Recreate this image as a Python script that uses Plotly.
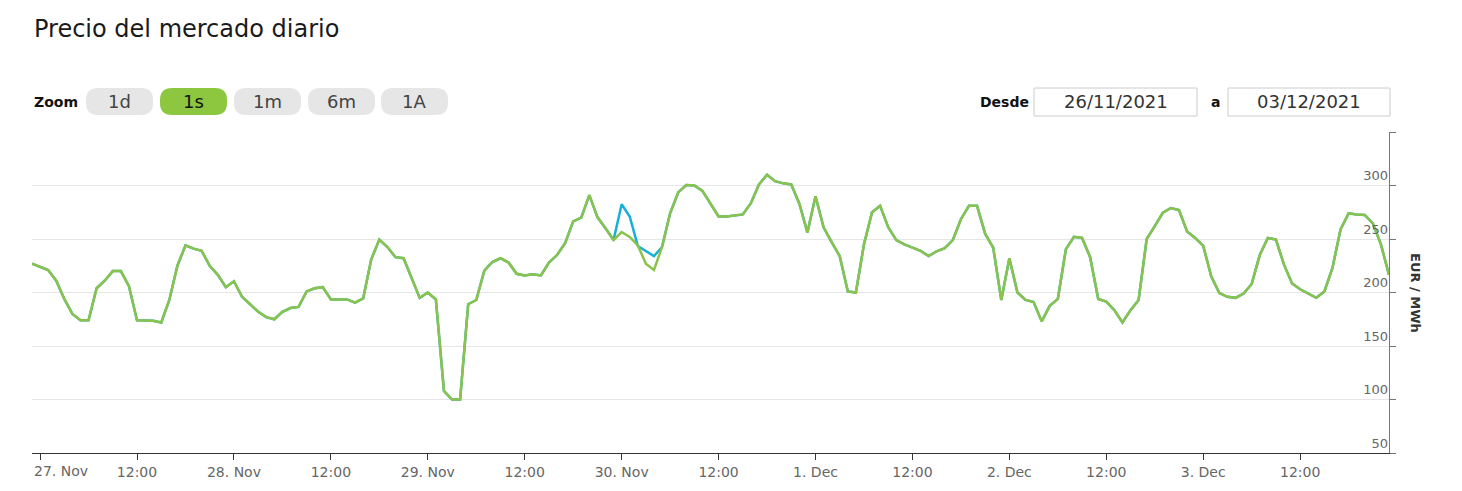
import plotly.graph_objects as go
import pandas as pd

# ---------------- data ----------------
start_time = "2021-11-26 23:00"
price_green = [
    227, 224, 221, 211, 194, 180, 174, 174, 204, 211, 220, 220, 206, 174, 174, 173.5, 172, 193, 225, 244,
    241, 239, 225, 216.5, 205, 210.5, 196, 189, 182, 177, 175, 182, 185.5, 186.5, 201, 204, 205, 193.5, 193.5, 193.5,
    190.5, 194.5, 231, 249.5, 242.5, 233, 232, 213.5, 195, 200, 193.5, 108, 100, 100, 189, 193, 220.5, 228.5, 232, 228,
    217.5, 216, 217, 216, 228, 235, 246, 266.5, 270, 291, 270.5, 260, 249, 256.5, 252, 244, 227, 221, 242.5, 274,
    293.5, 300.5, 300, 295, 283, 271, 271, 272, 273, 283.5, 301, 310, 304, 302, 301, 283, 256, 290, 261, 247,
    234, 201, 200, 245, 275, 281, 261, 249, 245, 242, 239, 234, 238.5, 241.5, 249, 268.5, 281, 281, 255, 242,
    193, 232, 200, 193, 191, 173, 187.5, 194, 240.5, 252, 251, 233, 194, 191.5, 183.5, 172, 183.5, 193, 250, 262,
    274.5, 279, 277, 257, 251, 243.5, 215, 199.5, 196, 195, 199, 208, 235, 251, 249.5, 226, 208.5, 203, 199, 195,
    201, 223, 259, 274, 273, 272.5, 264.5, 245, 216.5,
]
price_blue = [
    227, 224, 221, 211, 194, 180, 174, 174, 204, 211, 220, 220, 206, 174, 174, 173.5, 172, 193, 225, 244,
    241, 239, 225, 216.5, 205, 210.5, 196, 189, 182, 177, 175, 182, 185.5, 186.5, 201, 204, 205, 193.5, 193.5, 193.5,
    190.5, 194.5, 231, 249.5, 242.5, 233, 232, 213.5, 195, 200, 193.5, 108, 100, 100, 189, 193, 220.5, 228.5, 232, 228,
    217.5, 216, 217, 216, 228, 235, 246, 266.5, 270, 291, 270.5, 260, 249, 282.5, 271, 243.5, 239, 234, 242.5, 274,
    293.5, 300.5, 300, 295, 283, 271, 271, 272, 273, 283.5, 301, 310, 304, 302, 301, 283, 256, 290, 261, 247,
    234, 201, 200, 245, 275, 281, 261, 249, 245, 242, 239, 234, 238.5, 241.5, 249, 268.5, 281, 281, 255, 242,
    193, 232, 200, 193, 191, 173, 187.5, 194, 240.5, 252, 251, 233, 194, 191.5, 183.5, 172, 183.5, 193, 250, 262,
    274.5, 279, 277, 257, 251, 243.5, 215, 199.5, 196, 195, 199, 208, 235, 251, 249.5, 226, 208.5, 203, 199, 195,
    201, 223, 259, 274, 273, 272.5, 264.5, 245, 216.5,
]
x_tick_vals = ["2021-11-27 00:00", "2021-11-27 12:00", "2021-11-28 00:00", "2021-11-28 12:00",
               "2021-11-29 00:00", "2021-11-29 12:00", "2021-11-30 00:00", "2021-11-30 12:00",
               "2021-12-01 00:00", "2021-12-01 12:00", "2021-12-02 00:00", "2021-12-02 12:00",
               "2021-12-03 00:00", "2021-12-03 12:00"]
x_tick_text = ["27. Nov", "12:00", "28. Nov", "12:00", "29. Nov", "12:00", "30. Nov", "12:00",
               "1. Dec", "12:00", "2. Dec", "12:00", "3. Dec", "12:00"]
y_tick_vals = [50, 100, 150, 200, 250, 300, 350]
y_tick_text = ["50", "100", "150", "200", "250", "300", ""]
zoom_labels = ["1d", "1s", "1m", "6m", "1A"]
date_from = "26/11/2021"
date_to = "03/12/2021"

times = pd.date_range(start_time, periods=len(price_green), freq="h")

# ---------------- layout geometry (pixels) ----------------
FIG_W, FIG_H = 1462, 491
L, R, T, B = 32, 1389, 132, 453
PW, PH = R - L, B - T

def px(x):
    return (x - L) / PW

def py(y):
    return (B - y) / PH

FONT = "DejaVu Sans, Verdana, sans-serif"
GREEN_LINE = "#8bc34a"
GREEN_BTN = "#8dc63f"
BLUE_LINE = "#1aafd6"

fig = go.Figure()
fig.add_trace(go.Scatter(x=times, y=price_blue, mode="lines",
                         line=dict(color=BLUE_LINE, width=2.5), showlegend=False, hoverinfo="skip"))
fig.add_trace(go.Scatter(x=times, y=price_green, mode="lines",
                         line=dict(color=GREEN_LINE, width=2.5), showlegend=False))

shapes = []
annotations = []

def rounded_rect(x0, y0, x1, y1, r, fill, line_color=None):
    X0, X1 = px(x0), px(x1)
    Y0, Y1 = py(y0), py(y1)
    rx, ry = r / PW, r / PH
    path = (f"M {X0+rx},{Y0} L {X1-rx},{Y0} Q {X1},{Y0} {X1},{Y0-ry} "
            f"L {X1},{Y1+ry} Q {X1},{Y1} {X1-rx},{Y1} L {X0+rx},{Y1} "
            f"Q {X0},{Y1} {X0},{Y1+ry} L {X0},{Y0-ry} Q {X0},{Y0} {X0+rx},{Y0} Z")
    shapes.append(dict(type="path", path=path, xref="paper", yref="paper",
                       fillcolor=fill, line=dict(width=0 if line_color is None else 1,
                                                 color=line_color or fill), layer="above"))

def text(x, y, s, size, color="#333333", bold=False, xanchor="center", angle=0):
    annotations.append(dict(x=px(x), y=py(y), xref="paper", yref="paper", text=f"<b>{s}</b>" if bold else s,
                            showarrow=False, xanchor=xanchor, yanchor="middle", textangle=angle,
                            font=dict(family=FONT, size=size, color=color)))

# title
text(32, 29, "Precio del mercado diario", 24, color="#1a1a1a", xanchor="left")

# zoom buttons
text(32, 102, "Zoom", 14, color="#111111", bold=True, xanchor="left")
btn_x0 = [86, 160, 234, 308, 381]
for i, lab in enumerate(zoom_labels):
    x0 = btn_x0[i]
    sel = lab == "1s"
    rounded_rect(x0, 88, x0 + 67, 115, 12, GREEN_BTN if sel else "#e6e6e6")
    text(x0 + 33.5, 101.5, lab, 18, color="#111111" if sel else "#444444")

# date range inputs
text(1031, 102, "Desde", 14, color="#111111", bold=True, xanchor="right")
shapes.append(dict(type="rect", xref="paper", yref="paper", x0=px(1034), x1=px(1197), y0=py(88), y1=py(116),
                   line=dict(color="#cccccc", width=1), fillcolor="white"))
text(1115.5, 101.5, date_from, 18, color="#333333")
text(1215, 102, "a", 14, color="#111111", bold=True)
shapes.append(dict(type="rect", xref="paper", yref="paper", x0=px(1228), x1=px(1390), y0=py(88), y1=py(116),
                   line=dict(color="#cccccc", width=1), fillcolor="white"))
text(1309, 101.5, date_to, 18, color="#333333")

# y-axis title (rotated clockwise)
text(1416, 293, "EUR / MWh", 13, color="#333333", bold=True, angle=90)

# first x label is pushed right so it stays inside the chart (as in the original)
tick_text_shown = [""] + x_tick_text[1:]
text(32, 471, x_tick_text[0], 14, color="#666666", xanchor="left")

fig.update_layout(
    width=FIG_W, height=FIG_H,
    margin=dict(l=L, r=FIG_W - R, t=T, b=FIG_H - B, pad=0),
    paper_bgcolor="white", plot_bgcolor="white",
    shapes=shapes, annotations=annotations,
    showlegend=False,
    font=dict(family=FONT, color="#666666"),
    xaxis=dict(
        type="date", range=[times[0], times[-1]],
        tickmode="array", tickvals=x_tick_vals, ticktext=tick_text_shown,
        showgrid=False, zeroline=False,
        showline=True, linecolor="#333333", linewidth=1,
        ticks="outside", ticklen=6, tickcolor="#333333", tickwidth=1,
        tickfont=dict(family=FONT, size=14, color="#666666"),
    ),
    yaxis=dict(
        range=[50, 350], side="right",
        tickmode="array", tickvals=y_tick_vals, ticktext=y_tick_text,
        ticklabelposition="inside top",
        showgrid=True, gridcolor="#e6e6e6", gridwidth=1, zeroline=False,
        showline=True, linecolor="#777777", linewidth=1,
        ticks="outside", ticklen=6, tickcolor="#777777", tickwidth=1,
        tickfont=dict(family=FONT, size=13, color="#666666"),
    ),
)

fig.write_html("out.html", config={"displayModeBar": False},
               post_script="document.body.style.margin='0px';")
